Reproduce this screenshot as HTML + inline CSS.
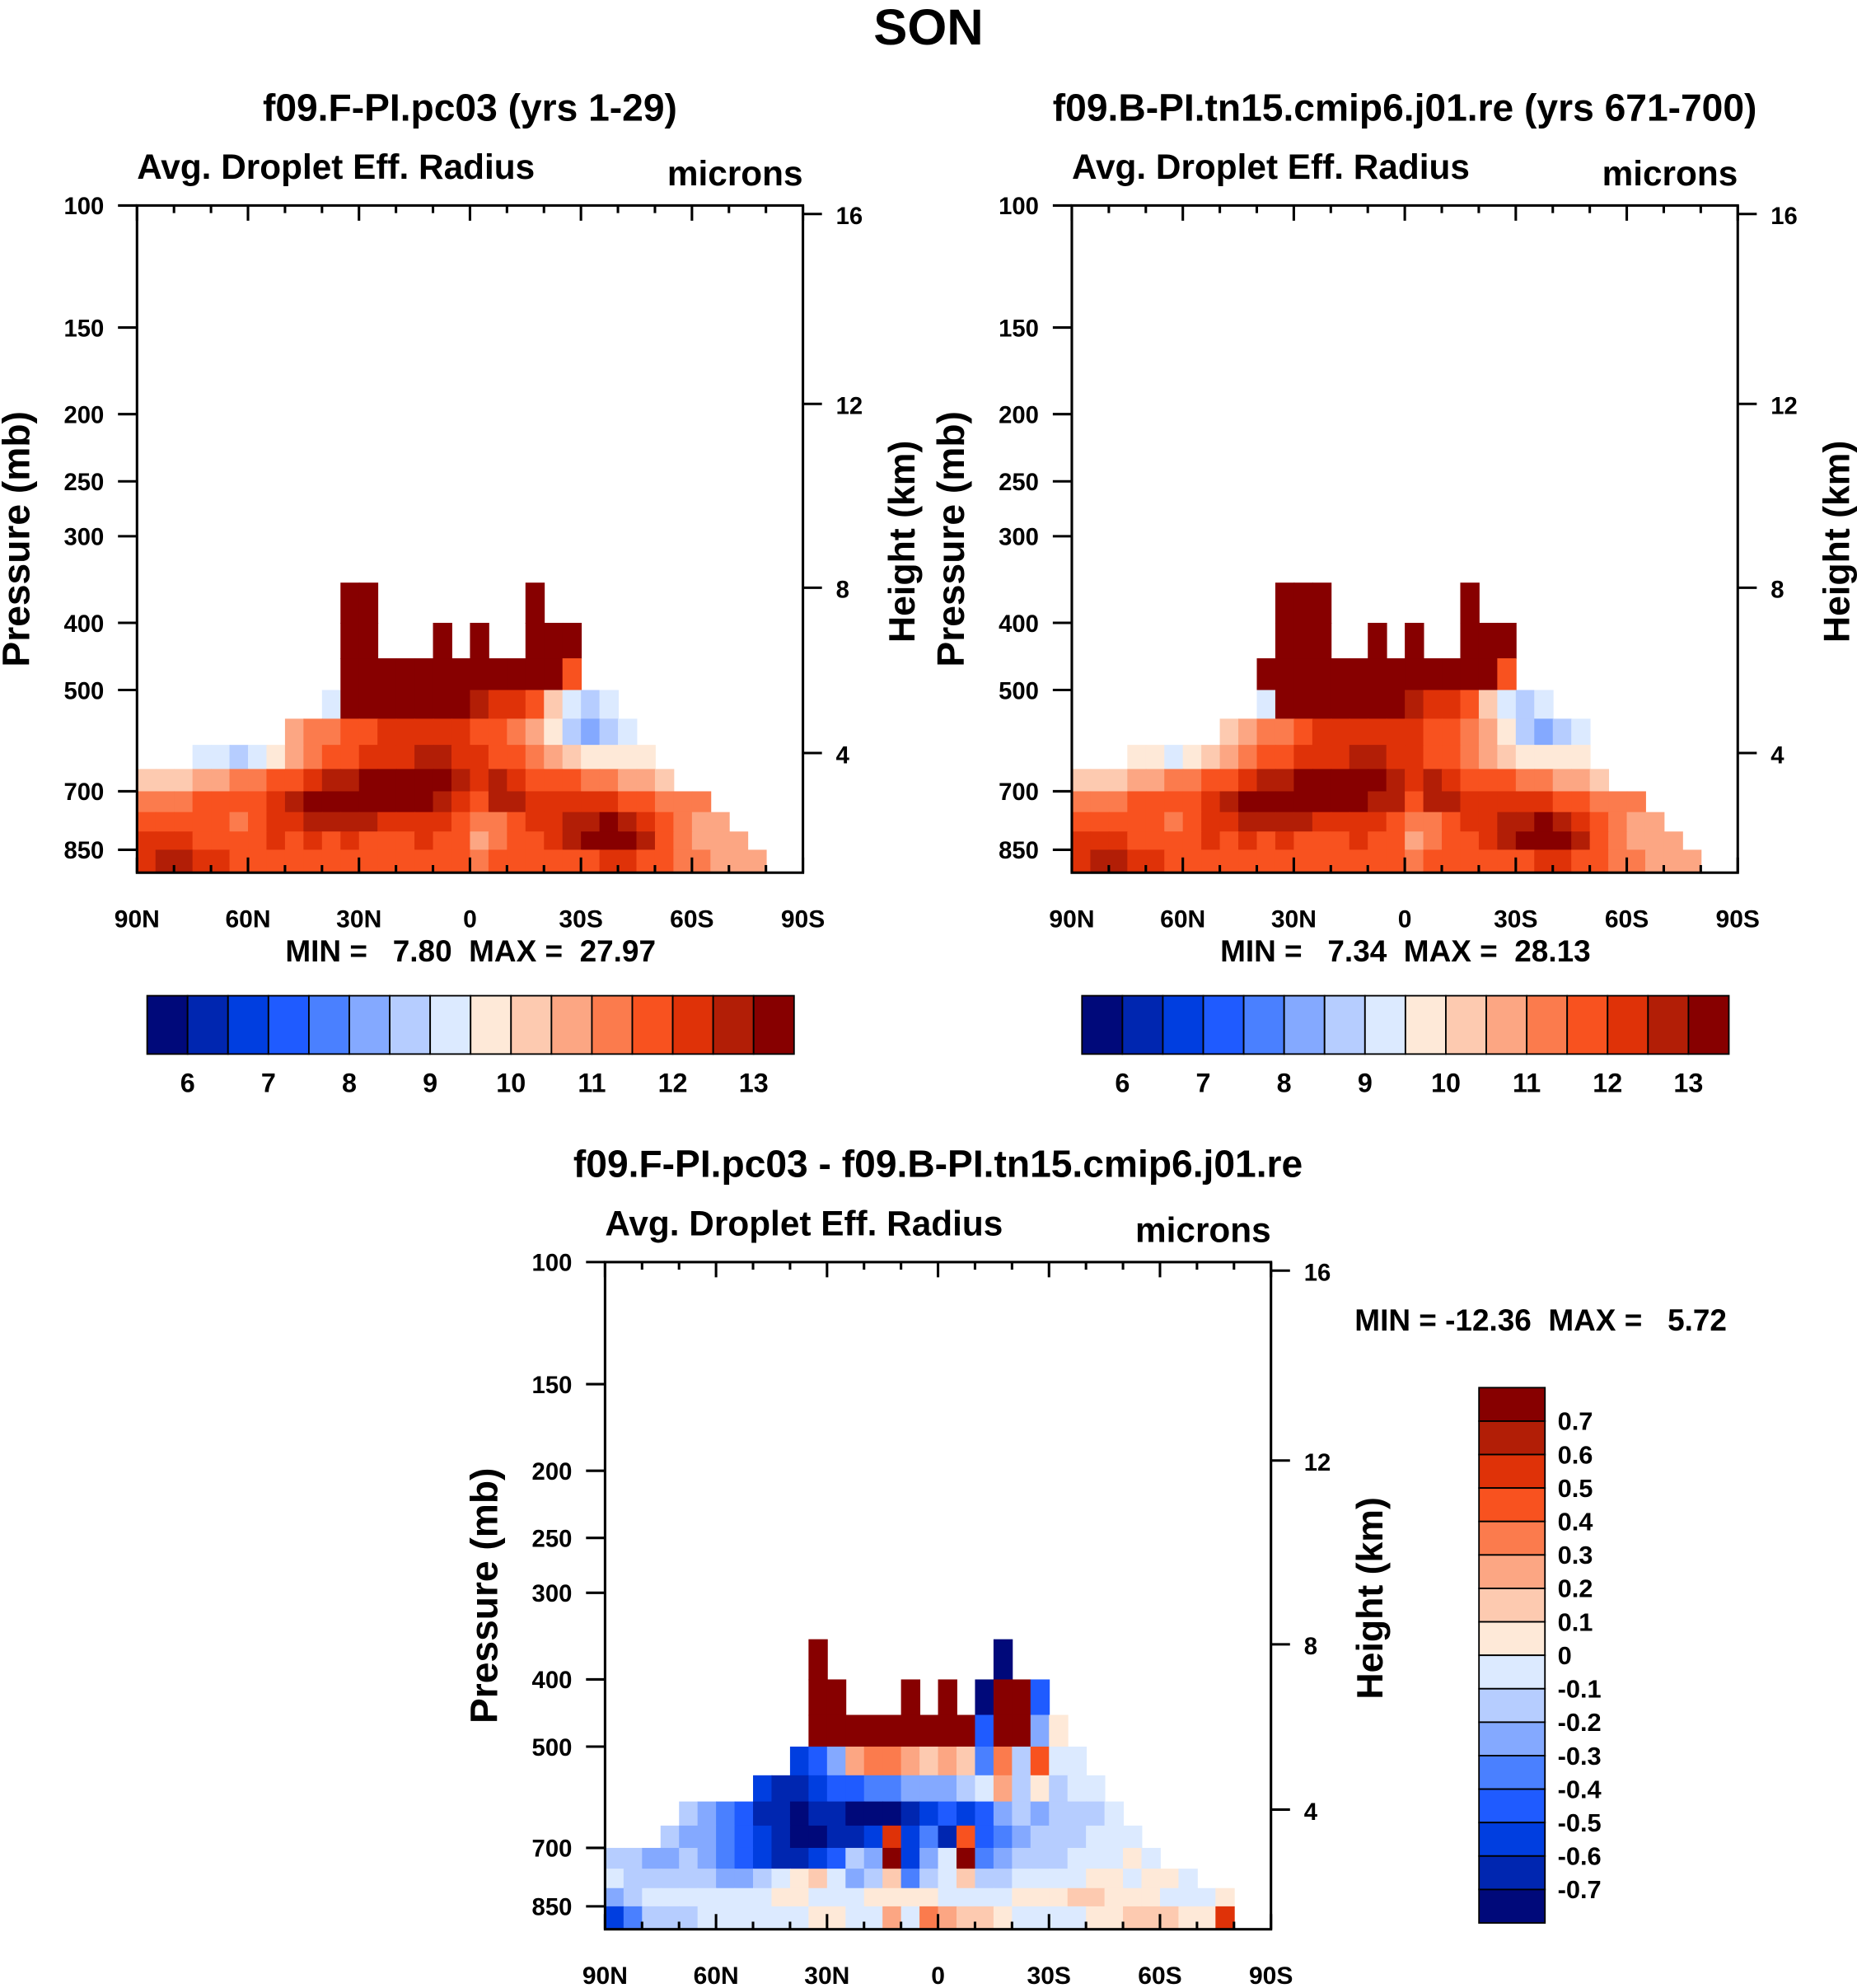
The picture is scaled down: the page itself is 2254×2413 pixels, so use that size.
<!DOCTYPE html>
<html><head><meta charset="utf-8"><style>
html,body{margin:0;padding:0;background:#fff}
svg{display:block}
text{font-family:"Liberation Sans",Arial,sans-serif;font-weight:bold;fill:#000}
</style></head><body>
<svg id="fig" xmlns="http://www.w3.org/2000/svg" width="2254" height="2413" viewBox="0 0 1464 1567.3">
<rect width="1464" height="1567.3" fill="#fff"/>
<text x="732" y="35" font-size="40" text-anchor="middle">SON</text>
</svg>
<script>
// ---- data ----
const pressureTicks = [100,150,200,250,300,400,500,700,850];
const heightTicks = [4,8,12,16];
const latLabels = ["90N","60N","30N","0","30S","60S","90S"];
const pressureEdges = [350,400,450,500,550,600,650,700,750,800,850,917];
const absLevels = ["6","7","8","9","10","11","12","13"];
const diffLevels = ["0.7","0.6","0.5","0.4","0.3","0.2","0.1","0","-0.1","-0.2","-0.3","-0.4","-0.5","-0.6","-0.7"];
const colors = ["#00097a","#0026b0","#003ee0","#1f5bff","#4a80ff","#84a9ff","#b6cdff","#dceaff","#fee9d8","#fdcab0","#fca683","#fb7b4d","#f8521f","#df3208","#b21e06","#870000"];
const panel1Rows = [
"...........FF........F..............",
"...........FF...F.F..FFF............",
"...........FFFFFFFFFFFFC............",
"..........7FFFFFFFEDDC9767..........",
"........ABBCCDDDDDCCBA86567.........",
"...77678ABCCDDDEEDDCCBA98888........",
"999AABBCCDEEFFFFFEDEDCCCBBAA9.......",
"BBBCCCCDEFFFFFFFEDCEEDDDDDCCBBB.....",
"CCCCCBCDDEEEEDDDDCBBCDDEEFEDCBAA....",
"DDDCCCCDCDCDCCCDCCABCCDEFFFECBAAA...",
"DEEDDCCCCCCCCCCCCCBCCCCCCDDCCBBAAA.."];
const panel2Rows = [
"...........FFF.......F..............",
"...........FFF..F.F..FFF............",
"..........FFFFFFFFFFFFFC............",
"..........7FFFFFFFEDDC9767..........",
"........9ABBCDDDDDDCCBA86567........",
"...88789ABCCDDDEEDDCCBA98888........",
"999AABBCCDEEFFFFFEDEDCCCBBAA9.......",
"BBBCCCCDEFFFFFFFEECEEDDDDDCCBBB.....",
"CCCCCBCDDEEEEDDDDCBBCDDEEFEDCBAA....",
"DDDCCCCDCDCDCCCDCCABCCDEFFFECBAAA...",
"DEEDDCCCCCCCCCCCCCBCCCCCCDDCCBBAAA.."];
const diffRows = [
"...........F.........0..............",
"...........FF...F.F.0FF3............",
"...........FFFFFFFFF3FF58...........",
"..........235ABBA9A94B6C77..........",
"........2112334455567A68677.........",
"....654311011000123235656667........",
"...65543210011 2D241C34566677 7.......".replace(/ /g,""),
"665565432112365F257F4566677787......",
"7666665567897569467966777788788 7....".replace(/ /g,""),
"56777777788777888877778889988877 78..".replace(/ /g,""),
"246667777778877A7BA99877778899988D.."];
const minmax1 = ["7.80","27.97"], minmax2 = ["7.34","28.13"], minmax3 = ["-12.36","5.72"];

// ---- drawing ----
const NS="http://www.w3.org/2000/svg";
const svg=document.getElementById('fig');
function el(tag,attrs,parent,txt){const e=document.createElementNS(NS,tag);for(const k in attrs)e.setAttribute(k,attrs[k]);if(txt!==undefined)e.textContent=txt;(parent||svg).appendChild(e);return e;}
const PW=525,PH=526,B=546.5;
function yOfP(oy,p){return oy+B*(Math.log10(p)-2);}
function xOfLat(ox,latFromN){return ox+latFromN*PW/180;}
function pOfH(h){ if(h<=11) return 1013.25*Math.pow(1-2.25577e-5*h*1000,5.25588); return 226.32*Math.exp(-(h-11)*1000/6341.6);}

function panel(ox,oy,rows,title,titleY,mm,key){
  const g=el('g',{},svg);
  
  
  const t=el('text',{x:ox+PW/2,y:titleY,'font-size':30,'text-anchor':'middle'},g,title);
  
  const a=el('text',{x:ox,y:oy-21,'font-size':27.5},g,"Avg. Droplet Eff. Radius");
  
  const u=el('text',{x:ox+PW,y:oy-16,'font-size':27.5,'text-anchor':'end'},g,"microns");
  
  const cells=el('g',{},g);
  
  const ncol=rows[0].length;
  rows.forEach((r,i)=>{
    const y0=yOfP(oy,pressureEdges[i]), y1=Math.min(yOfP(oy,pressureEdges[i+1]),oy+PH);
    for(let j=0;j<ncol;j++){
      const c=r[j]; if(!c||c==='.')continue;
      const idx=parseInt(c,16);
      const x0=xOfLat(ox,j*180/ncol), x1=xOfLat(ox,(j+1)*180/ncol);
      const rc=el('rect',{x:x0,y:y0,width:x1-x0+0.6,height:y1-y0+0.6,fill:colors[idx]},cells);
      
      
    }
  });
  const fr=el('rect',{x:ox,y:oy,width:PW,height:PH,fill:'none',stroke:'#000','stroke-width':2},g);
  
  pressureTicks.forEach(p=>{
    const y=yOfP(oy,p);
    el('line',{x1:ox-15,x2:ox,y1:y,y2:y,stroke:'#000','stroke-width':2},g);
    const tl=el('text',{x:ox-26,y:y+7,'font-size':19,'text-anchor':'end'},g,String(p));
    
  });
  heightTicks.forEach(h=>{
    const y=yOfP(oy,pOfH(h));
    el('line',{x1:ox+PW,x2:ox+PW+15,y1:y,y2:y,stroke:'#000','stroke-width':2},g);
    const tl=el('text',{x:ox+PW+26,y:y+8,'font-size':19},g,String(h));
    
  });
  for(let d=0;d<=180;d+=10){
    const x=xOfLat(ox,d), major=d%30===0, L=major?12:6;
    el('line',{x1:x,x2:x,y1:oy,y2:oy+L,stroke:'#000','stroke-width':2},g);
    el('line',{x1:x,x2:x,y1:oy+PH,y2:oy+PH-L,stroke:'#000','stroke-width':2},g);
  }
  latLabels.forEach((s,i)=>{
    const tl=el('text',{x:xOfLat(ox,i*30),y:oy+PH+43,'font-size':19.5,'text-anchor':'middle'},g,s);
    
  });
  const yt=el('text',{transform:`translate(${ox-85},${oy+263}) rotate(-90)`,'font-size':30,'text-anchor':'middle'},g,"Pressure (mb)");
  
  const rt=el('text',{transform:`translate(${ox+PW+88},${oy+265}) rotate(-90)`,'font-size':29,'text-anchor':'middle'},g,"Height (km)");
  
  return g;
}
function hbar(ox,oy,key){
  const g=el('g',{},svg);
  
  const w=510/16;
  colors.forEach((c,i)=>{const r=el('rect',{x:ox+i*w,y:oy,width:w,height:46,fill:c,stroke:'#000','stroke-width':1.2},g);
    });
  absLevels.forEach((s,i)=>{const t=el('text',{x:ox+(1+2*i)*w,y:oy+76,'font-size':21,'text-anchor':'middle'},g,s);
    });
}
function mm(x,y,vals,key,anchor){
  const t=el('text',{x:x,y:y,'font-size':24,'text-anchor':anchor},svg,`MIN = ${vals[0].padStart(6,' ')}  MAX = ${vals[1].padStart(6,' ')}`);
  
  t.style.whiteSpace='pre';
}
panel(108,162,panel1Rows,"f09.F-PI.pc03 (yrs 1-29)",95,minmax1,'control');
mm(371,758,minmax1,'control','middle');
hbar(116,785,'control');
panel(845,162,panel2Rows,"f09.B-PI.tn15.cmip6.j01.re (yrs 671-700)",95,minmax2,'test');
mm(1108,758,minmax2,'test','middle');
hbar(853,785,'test');
panel(477,995,diffRows,"f09.F-PI.pc03 - f09.B-PI.tn15.cmip6.j01.re",928,minmax3,'difference');
mm(1068,1049,minmax3,'difference','start');
(function(){
  const g=el('g',{},svg);
  
  const ox=1166,oy=1094,h=422/16;
  for(let i=0;i<16;i++){const r=el('rect',{x:ox,y:oy+i*h,width:52,height:h,fill:colors[15-i],stroke:'#000','stroke-width':1.2},g);
    }
  diffLevels.forEach((s,i)=>{const t=el('text',{x:ox+62,y:oy+(i+1)*h+7,'font-size':20},g,s);
    });
})();
</script>
</body></html>
